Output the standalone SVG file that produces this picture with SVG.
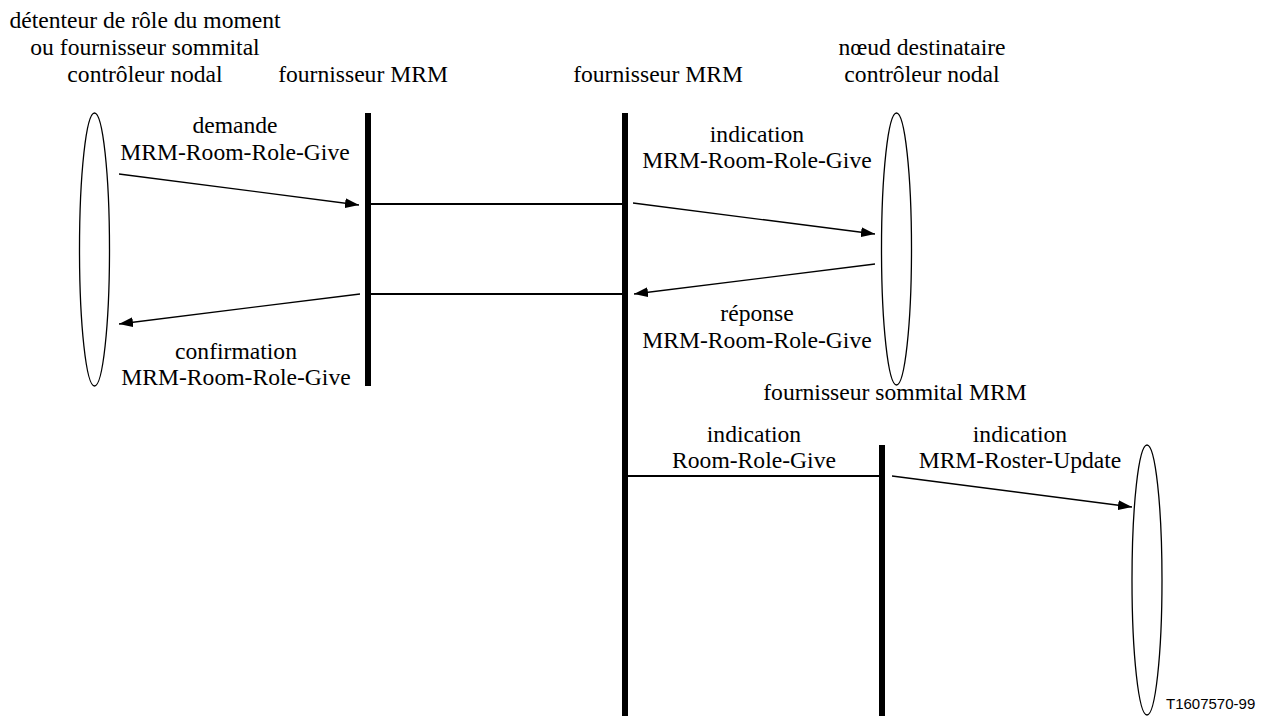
<svg xmlns="http://www.w3.org/2000/svg" width="1266" height="716" viewBox="0 0 1266 716">
  <style>
    .lbl { font-family: 'Liberation Serif', 'Times New Roman', Times, 'DejaVu Serif', serif; font-size: 23.6px; fill: #000; text-anchor: middle; }
    .ref { font-family: 'Liberation Sans', Arial, sans-serif; font-size: 15px; fill: #000; }
    .actor { fill: none; stroke: #000; stroke-width: 1.3; }
    .life { stroke: #000; stroke-width: 6; }
    .link { stroke: #000; stroke-width: 2.2; fill: none; }
    .msg { stroke: #000; stroke-width: 1.3; fill: none; marker-end: url(#head); }
  </style>
  <defs>
    <marker id="head" viewBox="0 0 14 10" refX="14" refY="5" markerWidth="14" markerHeight="10" markerUnits="userSpaceOnUse" orient="auto">
      <path d="M0,0 L14,5 L0,10 Z" fill="#000"/>
    </marker>
  </defs>
  <rect width="1266" height="716" fill="#fff"/>

  <!-- initiating node controller -->
  <g id="holder" class="lbl" font-family="Liberation Serif, serif">
    <text x="145" y="28">détenteur de rôle du moment</text>
    <text x="145" y="55">ou fournisseur sommital</text>
    <text x="145" y="82">contrôleur nodal</text>
    <ellipse class="actor" cx="94.5" cy="249.5" rx="15" ry="136.5"/>
  </g>

  <!-- local MRM provider -->
  <g id="provider1" class="lbl" font-family="Liberation Serif, serif">
    <text x="363" y="82">fournisseur MRM</text>
    <line class="life" x1="368" y1="113" x2="368" y2="386"/>
  </g>

  <!-- remote MRM provider -->
  <g id="provider2" class="lbl" font-family="Liberation Serif, serif">
    <text x="658" y="82">fournisseur MRM</text>
    <line class="life" x1="625" y1="113" x2="625" y2="716"/>
  </g>

  <!-- destination node controller -->
  <g id="destination" class="lbl" font-family="Liberation Serif, serif">
    <text x="922" y="55">nœud destinataire</text>
    <text x="922" y="82">contrôleur nodal</text>
    <ellipse class="actor" cx="896.5" cy="249" rx="15" ry="136"/>
  </g>

  <!-- top MRM provider -->
  <g id="topProvider" class="lbl" font-family="Liberation Serif, serif">
    <text x="895" y="400">fournisseur sommital MRM</text>
    <line class="life" x1="882" y1="445" x2="882" y2="716"/>
  </g>

  <!-- roster receiver -->
  <g id="rosterNode">
    <ellipse class="actor" cx="1147" cy="580" rx="15" ry="135"/>
  </g>

  <!-- messages and provider links -->
  <g id="connectors">
    <line class="link" x1="371" y1="204" x2="622" y2="204"/>
    <line class="link" x1="371" y1="294" x2="622" y2="294"/>
    <line class="link" x1="628" y1="476" x2="879" y2="476"/>

    <line class="msg" x1="119" y1="174" x2="359" y2="205"/>
    <line class="msg" x1="633" y1="203" x2="875" y2="234"/>
    <line class="msg" x1="875" y1="264" x2="634" y2="294"/>
    <line class="msg" x1="360" y1="294" x2="119" y2="324"/>
    <line class="msg" x1="892" y1="476" x2="1132" y2="507"/>

    <g class="lbl" font-family="Liberation Serif, serif">
      <text x="235" y="133">demande</text>
      <text x="235" y="160">MRM-Room-Role-Give</text>

      <text x="757" y="142">indication</text>
      <text x="757" y="168">MRM-Room-Role-Give</text>

      <text x="757" y="321">réponse</text>
      <text x="757" y="348">MRM-Room-Role-Give</text>

      <text x="236" y="359">confirmation</text>
      <text x="236" y="385">MRM-Room-Role-Give</text>

      <text x="754" y="442">indication</text>
      <text x="754" y="468">Room-Role-Give</text>

      <text x="1020" y="442">indication</text>
      <text x="1020" y="468">MRM-Roster-Update</text>
    </g>
  </g>

  <text class="ref" x="1166" y="709" font-family="Liberation Sans, sans-serif">T1607570-99</text>
</svg>
